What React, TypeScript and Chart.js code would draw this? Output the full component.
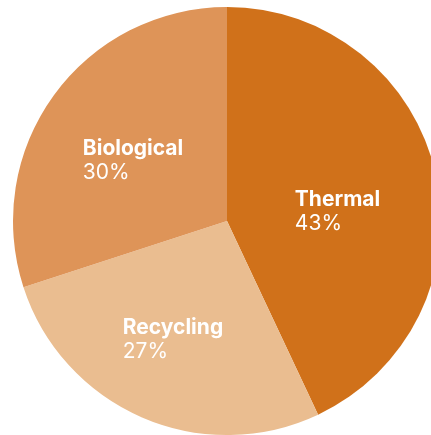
import React, { useEffect, useRef } from "react";
import { Chart, registerables } from "chart.js";

Chart.register(...registerables);

const categories = ["Thermal", "Recycling", "Biological"];
const shares = [43, 27, 30];
const sliceColors = ["#D0711A", "#EABD90", "#DE9458"];

// label placement style: radius fraction and angle offset (degrees) per slice
const labelRadius = [0.519, 0.602, 0.526];
const labelAngleOffset = [6.9, 1.4, -2.6];

const labelPlugin = {
  id: "sliceLabels",
  afterDatasetsDraw(chart: any) {
    const ctx = chart.ctx;
    const meta = chart.getDatasetMeta(0);
    const data = chart.data.datasets[0].data;
    ctx.save();
    ctx.fillStyle = "#FFFFFF";
    ctx.textBaseline = "alphabetic";
    ctx.textAlign = "left";
    meta.data.forEach((arc: any, i: number) => {
      const { x, y, startAngle, endAngle, outerRadius } = arc.getProps(
        ["x", "y", "startAngle", "endAngle", "outerRadius"],
        true
      );
      const mid = (startAngle + endAngle) / 2 + (labelAngleOffset[i] * Math.PI) / 180;
      const r = outerRadius * labelRadius[i];
      const cx = x + Math.cos(mid) * r;
      const cy = y + Math.sin(mid) * r;
      const title = chart.data.labels[i];
      const pct = data[i] + "%";
      ctx.font = "bold 21px Inter";
      const w1 = ctx.measureText(title).width;
      ctx.font = "21px Inter";
      const w2 = ctx.measureText(pct).width;
      const w = Math.max(w1, w2);
      const left = cx - w / 2;
      const base1 = cy - 19.5 + 15.5;
      ctx.font = "bold 21px Inter";
      ctx.fillText(title, left, base1);
      ctx.font = "21px Inter";
      ctx.fillText(pct, left, base1 + 24);
    });
    ctx.restore();
  },
};

export default function App() {
  const ref = useRef<HTMLCanvasElement | null>(null);
  useEffect(() => {
    if (!ref.current) return;
    const chart = new Chart(ref.current, {
      type: "pie",
      data: {
        labels: categories,
        datasets: [
          {
            data: shares,
            backgroundColor: sliceColors,
            borderWidth: 0,
          },
        ],
      },
      options: {
        animation: false,
        responsive: false,
        maintainAspectRatio: false,
        layout: { padding: 7 },
        plugins: {
          legend: { display: false },
          tooltip: { enabled: false },
        },
      },
      plugins: [labelPlugin],
    });
    return () => chart.destroy();
  }, []);
  return (
    <div
      style={{
        position: "fixed",
        left: 0,
        top: 0,
        width: 431,
        height: 435,
        overflow: "hidden",
        background: "#FFFFFF",
      }}
    >
      <canvas
        ref={ref}
        width={454}
        height={442}
        style={{ position: "absolute", left: 0, top: 0, width: 454, height: 442 }}
      />
    </div>
  );
}
